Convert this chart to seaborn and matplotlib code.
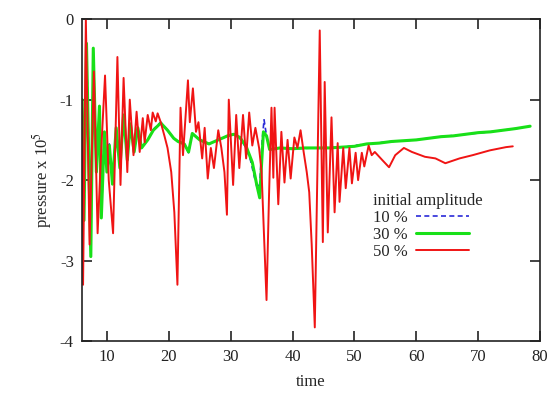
import numpy as np
import pandas as pd
import matplotlib
matplotlib.use("Agg")
import matplotlib.pyplot as plt
import seaborn as sns

# amplitude 50 %
t50 = [6.0, 6.15, 6.6, 7.2, 7.9, 8.5, 9.1, 9.7, 10.3, 11.0, 11.7, 12.2, 12.7, 13.3,
       13.7, 14.3, 14.8, 15.3, 15.8, 16.1, 16.6, 17.1, 17.4, 17.9, 18.2, 18.7, 19.3,
       19.8, 20.4, 20.9, 21.4, 21.9, 22.3, 23.1, 23.4, 23.9, 24.4, 24.8, 25.4, 25.8,
       26.3, 26.8, 27.3, 28.0, 28.5, 29.0, 29.4, 29.7, 30.4, 30.9, 31.4, 32.0, 32.5,
       33.0, 33.5, 34.0, 34.6, 35.0, 35.4, 35.8, 36.2, 36.6, 36.9, 37.1, 37.7, 38.2,
       38.7, 39.2, 39.7, 40.3, 40.8, 41.3, 41.8, 42.3, 42.7, 43.1, 43.6, 44.4, 44.9,
       45.2, 45.7, 46.3, 46.8, 47.3, 47.6, 48.2, 48.6, 49.2, 49.6, 50.2, 50.6, 51.2,
       51.6, 52.3, 52.8, 53.3, 54.5, 55.6, 56.6, 58.0, 59.3, 61.4, 63.1, 64.7, 67.0,
       69.1, 71.9, 74.5, 75.6]
p50 = [-1.0, -3.3, 0.0, -2.8, -0.65, -2.66, -1.6, -0.70, -2.0, -2.66, -0.47, -2.06, -0.73, -1.9,
       -1.0, -1.69, -1.15, -1.65, -1.23, -1.53, -1.19, -1.38, -1.16, -1.27, -1.17, -1.28, -1.45,
       -1.6, -1.9, -2.4, -3.3, -1.1, -1.69, -0.76, -1.28, -0.86, -1.4, -1.28, -1.73, -1.35,
       -1.98, -1.6, -1.85, -1.38, -1.6, -1.9, -2.43, -1.0, -2.06, -1.19, -1.85, -1.19, -1.73,
       -1.16, -1.57, -1.35, -1.6, -1.9, -2.7, -3.49, -2.2, -1.1, -1.97, -1.1, -2.3, -1.4,
       -2.03, -1.5, -1.98, -1.47, -1.6, -1.38, -1.65, -1.9, -2.15, -2.8, -3.83, -0.14, -2.77,
       -0.78, -2.65, -1.22, -2.4, -1.54, -2.27, -1.6, -2.1, -1.6, -2.04, -1.66, -2.0, -1.66,
       -1.83, -1.57, -1.69, -1.65, -1.75, -1.84, -1.69, -1.6, -1.65, -1.71, -1.73, -1.79, -1.73,
       -1.69, -1.63, -1.59, -1.58]

# amplitude 30 %
t30 = [6.0, 6.3, 6.7, 7.4, 7.8, 8.3, 8.8, 9.1, 9.6, 10.0, 10.4, 10.9, 11.5, 12.1, 12.7,
       13.3, 13.8, 14.4, 15.0, 15.6, 16.6, 17.5, 18.7, 19.8, 20.8, 21.5, 22.5, 23.2, 23.8,
       25.0, 26.5, 28.0, 29.5, 30.5, 31.5, 32.5, 33.5, 34.2, 34.7, 35.0, 35.3, 35.8, 36.3,
       38.0, 40.0, 42.0, 44.0, 46.0, 48.0, 50.0, 52.0, 54.0, 56.0, 58.0, 60.0, 62.0, 64.0,
       66.0, 68.0, 70.0, 72.0, 74.0, 76.0, 78.4]
p30 = [-1.0, -2.5, -0.3, -2.95, -0.36, -1.9, -1.08, -2.47, -1.4, -1.9, -1.57, -2.05, -1.35, -1.85, -1.19,
       -1.75, -1.3, -1.65, -1.35, -1.6, -1.5, -1.38, -1.29, -1.38, -1.48, -1.52, -1.55, -1.65, -1.42,
       -1.5, -1.55, -1.5, -1.45, -1.43, -1.47, -1.58, -1.78, -2.05, -2.22, -1.8, -1.4, -1.45, -1.62,
       -1.6, -1.61, -1.6, -1.6, -1.6, -1.59, -1.58, -1.55, -1.54, -1.52, -1.51, -1.5, -1.48, -1.46,
       -1.45, -1.43, -1.41, -1.4, -1.38, -1.36, -1.33]

# amplitude 10 %
t10 = [6.0, 6.3, 6.7, 7.4, 7.8, 8.3, 8.8, 9.1, 9.6, 10.0, 10.4, 10.9, 11.5, 12.1, 12.7,
       13.3, 13.8, 14.4, 15.0, 15.6, 16.6, 17.5, 18.7, 19.8, 20.8, 21.5, 22.5, 23.2, 23.8,
       25.0, 26.5, 28.0, 29.5, 30.5, 31.5, 32.5, 33.2, 33.8, 34.3, 34.7, 35.1, 35.4, 35.9,
       36.4, 38.0, 40.0, 44.0, 48.0, 52.0, 56.0, 60.0, 64.0, 68.0, 72.0, 77.0]
p10 = [-1.0, -2.5, -0.3, -2.9, -0.4, -1.9, -1.1, -2.45, -1.4, -1.88, -1.55, -2.05, -1.35, -1.85, -1.2,
       -1.75, -1.3, -1.65, -1.35, -1.6, -1.5, -1.37, -1.28, -1.38, -1.48, -1.52, -1.55, -1.66, -1.42,
       -1.5, -1.55, -1.5, -1.45, -1.43, -1.48, -1.6, -1.75, -1.95, -2.1, -2.05, -1.5, -1.25, -1.5,
       -1.62, -1.6, -1.61, -1.6, -1.59, -1.55, -1.52, -1.5, -1.46, -1.43, -1.4, -1.35]

df = pd.concat([
    pd.DataFrame({"time": t10, "pressure": p10, "amp": "10 %"}),
    pd.DataFrame({"time": t30, "pressure": p30, "amp": "30 %"}),
    pd.DataFrame({"time": t50, "pressure": p50, "amp": "50 %"}),
])

sns.set_style("ticks")
plt.rcParams["font.family"] = ["Liberation Serif", "DejaVu Serif"]
plt.rcParams["mathtext.fontset"] = "stix"
plt.rcParams["axes.unicode_minus"] = False

fig = plt.figure(figsize=(5.55, 4.08), dpi=100)
ax = fig.add_axes([0.148, 0.164, 0.825, 0.789])

styles = {"10 %": dict(color="#2a2ad8", lw=1.2, ls=(0, (3, 2))),
          "30 %": dict(color="#18e018", lw=2.2, ls="-"),
          "50 %": dict(color="#f01414", lw=1.4, ls="-")}
for amp in ["10 %", "30 %", "50 %"]:
    sub = df[df["amp"] == amp]
    sns.lineplot(data=sub, x="time", y="pressure", estimator=None, sort=False,
                 ax=ax, label=amp, **styles[amp])

ax.set_xlim(6, 80)
ax.set_ylim(-4, 0)
ax.set_xticks(range(10, 81, 10))
ax.set_yticks([0, -1, -2, -3, -4])
ax.tick_params(direction="in", length=7, width=1.2, top=True, right=True,
               labelsize=12, pad=6, colors="#222222")
for s in ax.spines.values():
    s.set_linewidth(1.2)
    s.set_color("#222222")
ax.set_xlabel("time", fontsize=12, labelpad=6)
ax.set_ylabel(r"pressure x 10$^5$", fontsize=12, labelpad=4)

leg = ax.legend(title="initial amplitude", loc="upper left",
                bbox_to_anchor=(0.62, 0.48), frameon=False, markerfirst=False,
                fontsize=12, title_fontsize=12, handlelength=3.2,
                handletextpad=0.5, labelspacing=0.05, borderaxespad=0)
leg._legend_box.align = "left"

fig.savefig("out.png", dpi=100)
